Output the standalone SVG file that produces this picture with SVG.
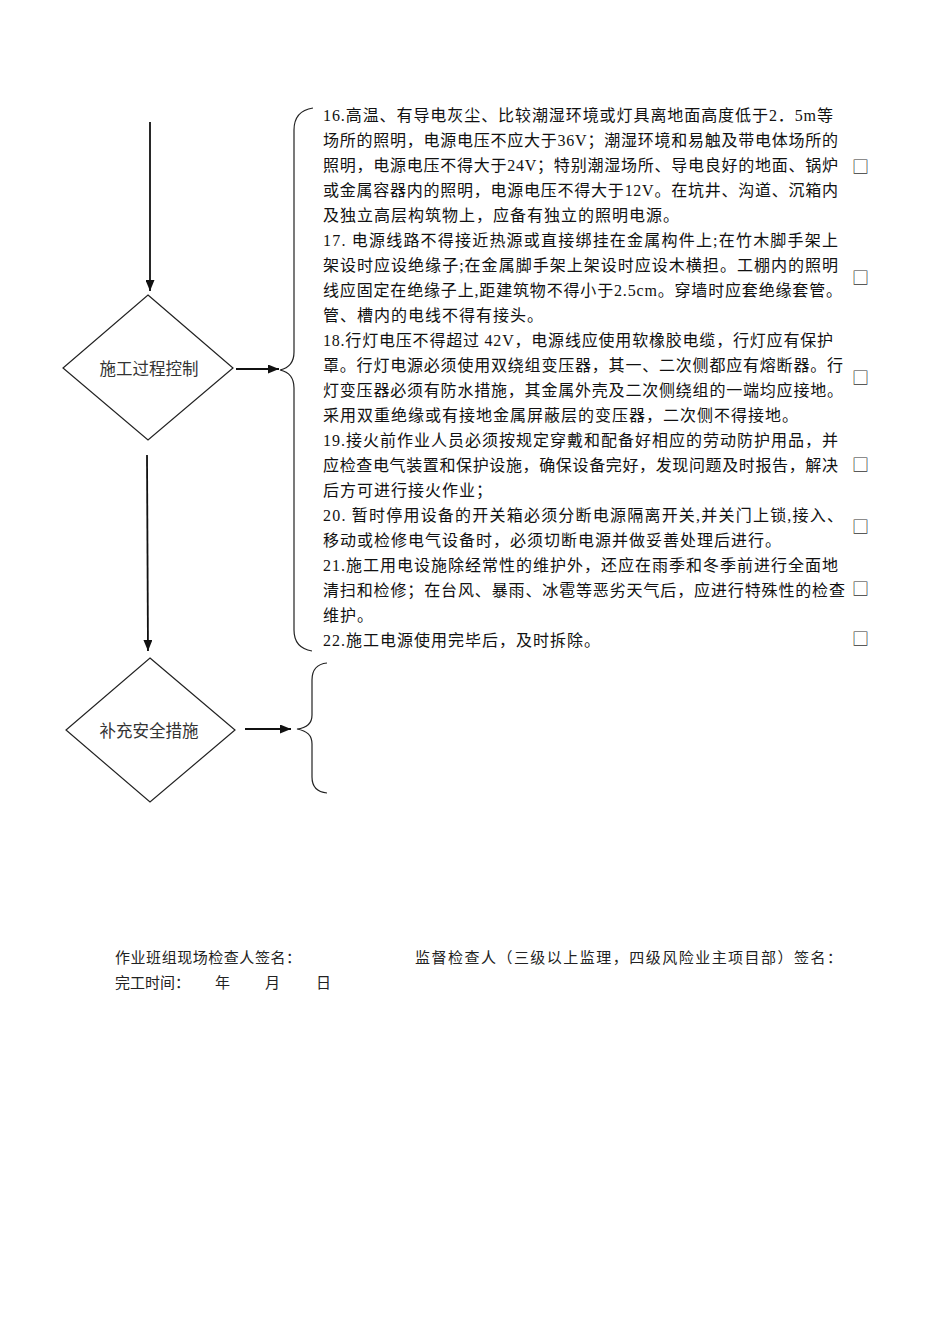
<svg xmlns="http://www.w3.org/2000/svg" width="950" height="1344" viewBox="0 0 950 1344">
<style>
.t{font-family:"Liberation Serif","Noto Sans CJK SC",serif;font-size:16px;fill:#111}
.s{letter-spacing:1px}
.d{fill:#fff;stroke:#222;stroke-width:1.2}
.dt{font-family:"Noto Sans CJK SC",sans-serif;font-size:16.5px;fill:#333;text-anchor:middle}
.c{fill:none;stroke:#111;stroke-width:1.8}
.b{fill:none;stroke:#222;stroke-width:1.2}
.cb{font-family:"Noto Sans CJK SC",sans-serif;font-size:17px;fill:#333}
.f{font-family:"Noto Sans CJK SC",sans-serif;font-size:15px;fill:#222}
</style>
<defs>
<marker id="ah" markerUnits="userSpaceOnUse" markerWidth="11" markerHeight="9" refX="11" refY="4.5" orient="auto">
<path d="M0,0 L11,4.5 L0,9 z" fill="#111"/>
</marker>
</defs>
<rect width="950" height="1344" fill="#fff"/>
<g id="connectors">
<line class="c" x1="150" y1="122" x2="150" y2="291" marker-end="url(#ah)"/>
<line class="c" x1="147" y1="455" x2="148" y2="651" marker-end="url(#ah)"/>
<line class="c" x1="236" y1="369" x2="279" y2="369" marker-end="url(#ah)"/>
<line class="c" x1="245" y1="729" x2="291" y2="729" marker-end="url(#ah)"/>
</g>
<g id="node-control">
<polygon class="d" points="148,295 233,368 148,440 63,368"/>
<text class="dt" x="149" y="375">施工过程控制</text>
</g>
<g id="node-supplement">
<polygon class="d" points="150,658 235,730 150,802 66,730"/>
<text class="dt" x="149" y="737">补充安全措施</text>
</g>
<g id="brace-1">
<path class="b" d="M313,108 C300,110 294,118 294,130 L294,352 C294,362 289,368 280,370 C289,372 294,378 294,388 L294,630 C294,642 300,649 312,651"/>
</g>
<g id="brace-2">
<path class="b" d="M327,663 C317,664 312,670 312,680 L312,715 C312,724 307,728 297,729 C307,731 312,735 312,744 L312,777 C312,787 317,792 327,793"/>
</g>
<g id="items">
<text class="t" x="323" y="121" textLength="510" lengthAdjust="spacing">16.高温、有导电灰尘、比较潮湿环境或灯具离地面高度低于2．5m等</text>
<text class="t" x="323" y="146" textLength="515" lengthAdjust="spacing">场所的照明，电源电压不应大于36V；潮湿环境和易触及带电体场所的</text>
<text class="t" x="323" y="171" textLength="515" lengthAdjust="spacing">照明，电源电压不得大于24V；特别潮湿场所、导电良好的地面、锅炉</text>
<text class="t" x="323" y="196" textLength="515" lengthAdjust="spacing">或金属容器内的照明，电源电压不得大于12V。在坑井、沟道、沉箱内</text>
<text class="t s" x="323" y="221">及独立高层构筑物上，应备有独立的照明电源。</text>
<text class="t" x="323" y="246" textLength="515" lengthAdjust="spacing">17.  电源线路不得接近热源或直接绑挂在金属构件上;在竹木脚手架上</text>
<text class="t" x="323" y="271" textLength="515" lengthAdjust="spacing">架设时应设绝缘子;在金属脚手架上架设时应设木横担。工棚内的照明</text>
<text class="t" x="323" y="296" textLength="519" lengthAdjust="spacing">线应固定在绝缘子上,距建筑物不得小于2.5cm。穿墙时应套绝缘套管。</text>
<text class="t s" x="323" y="321">管、槽内的电线不得有接头。</text>
<text class="t" x="323" y="346" textLength="510" lengthAdjust="spacing">18.行灯电压不得超过  42V，电源线应使用软橡胶电缆，行灯应有保护</text>
<text class="t" x="323" y="371" textLength="520" lengthAdjust="spacing">罩。行灯电源必须使用双绕组变压器，其一、二次侧都应有熔断器。行</text>
<text class="t" x="323" y="396" textLength="520" lengthAdjust="spacing">灯变压器必须有防水措施，其金属外壳及二次侧绕组的一端均应接地。</text>
<text class="t s" x="323" y="421">采用双重绝缘或有接地金属屏蔽层的变压器，二次侧不得接地。</text>
<text class="t" x="323" y="446" textLength="515" lengthAdjust="spacing">19.接火前作业人员必须按规定穿戴和配备好相应的劳动防护用品，并</text>
<text class="t" x="323" y="471" textLength="515" lengthAdjust="spacing">应检查电气装置和保护设施，确保设备完好，发现问题及时报告，解决</text>
<text class="t s" x="323" y="496">后方可进行接火作业；</text>
<text class="t" x="323" y="521" textLength="520" lengthAdjust="spacing">20.  暂时停用设备的开关箱必须分断电源隔离开关,并关门上锁,接入、</text>
<text class="t s" x="323" y="546">移动或检修电气设备时，必须切断电源并做妥善处理后进行。</text>
<text class="t" x="323" y="571" textLength="515" lengthAdjust="spacing">21.施工用电设施除经常性的维护外，还应在雨季和冬季前进行全面地</text>
<text class="t" x="323" y="596" textLength="522" lengthAdjust="spacing">清扫和检修；在台风、暴雨、冰雹等恶劣天气后，应进行特殊性的检查</text>
<text class="t s" x="323" y="621">维护。</text>
<text class="t s" x="323" y="646">22.施工电源使用完毕后，及时拆除。</text>
</g>
<g id="checkboxes">
<text class="cb" x="852" y="173">□</text>
<text class="cb" x="852" y="284">□</text>
<text class="cb" x="852" y="384">□</text>
<text class="cb" x="852" y="471">□</text>
<text class="cb" x="852" y="533">□</text>
<text class="cb" x="852" y="595">□</text>
<text class="cb" x="852" y="645">□</text>
</g>
<g id="signatures">
<text class="f" x="115" y="963" textLength="186" lengthAdjust="spacing">作业班组现场检查人签名：</text>
<text class="f" x="415" y="963" textLength="427" lengthAdjust="spacing">监督检查人（三级以上监理，四级风险业主项目部）签名：</text>
<text class="f" x="115" y="988">完工时间：</text>
<text class="f" x="215" y="988">年</text>
<text class="f" x="265" y="988">月</text>
<text class="f" x="316" y="988">日</text>
</g>
</svg>
